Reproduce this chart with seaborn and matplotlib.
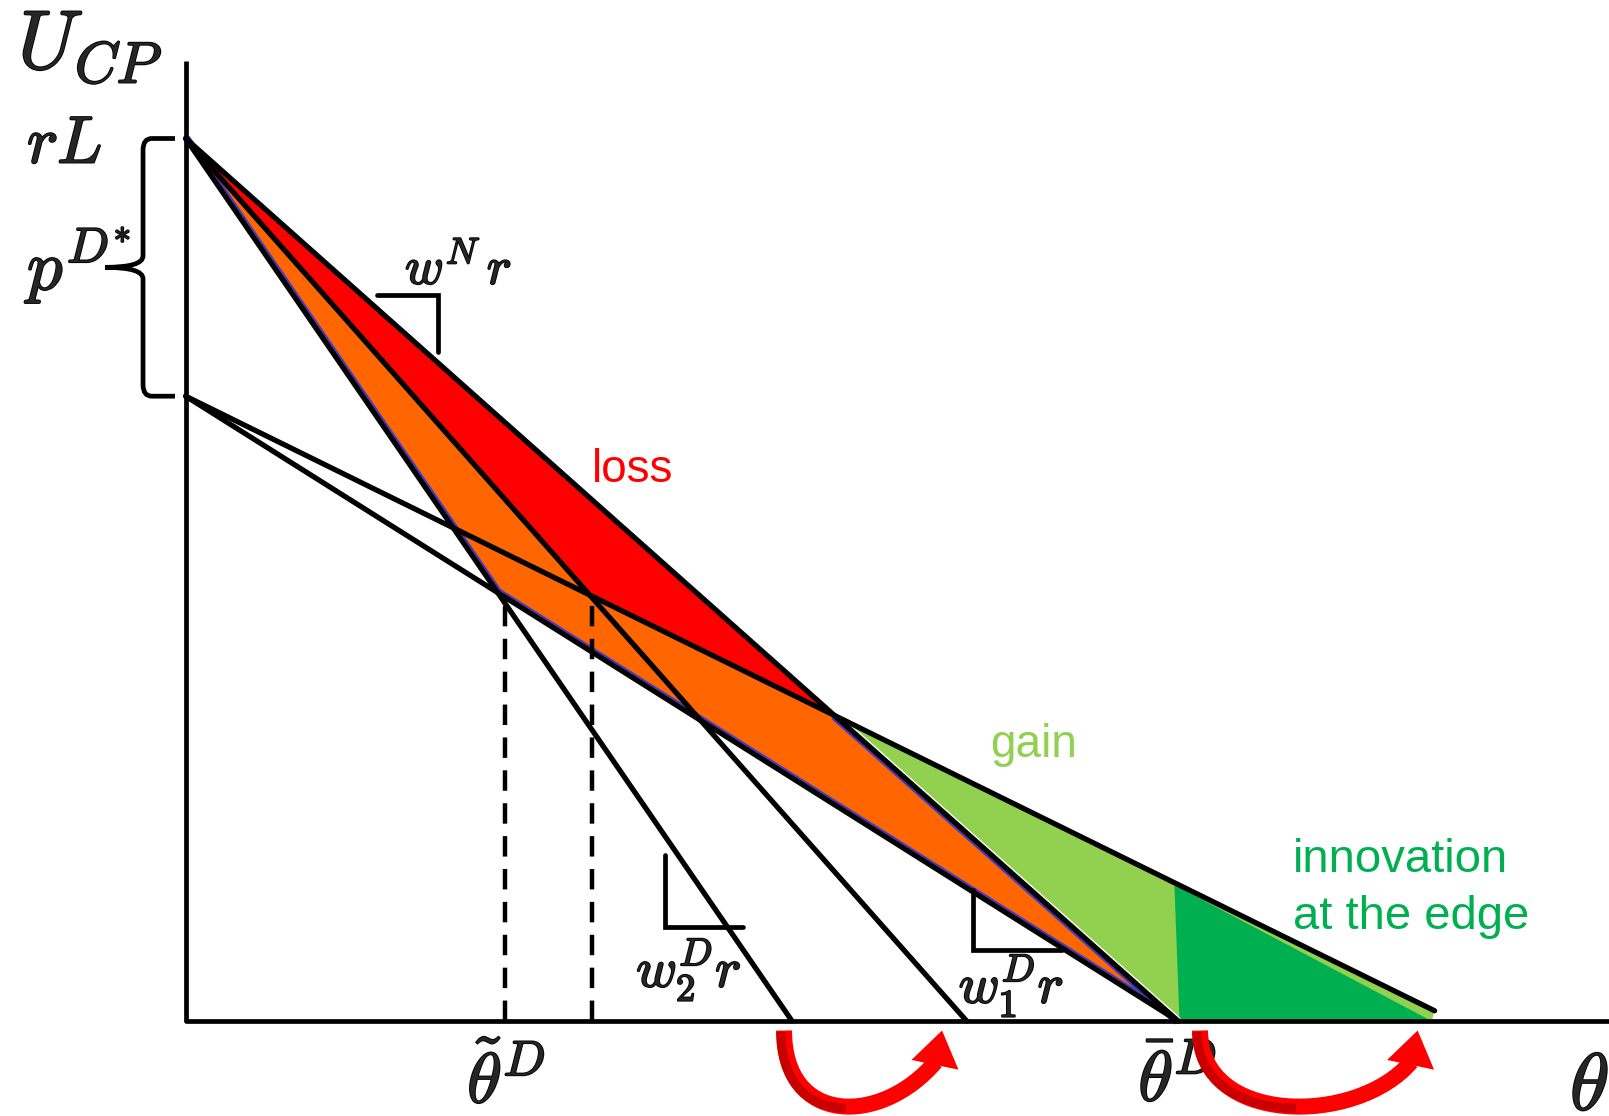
import numpy as np
import matplotlib
matplotlib.use("Agg")
import matplotlib.pyplot as plt
import matplotlib.patheffects as pe
import seaborn as sns
from matplotlib.path import Path
from matplotlib.patches import PathPatch, Polygon
from matplotlib.transforms import ScaledTranslation, IdentityTransform

sns.set_theme(style="white")
plt.rcParams["font.family"] = ["Liberation Sans", "DejaVu Sans"]
plt.rcParams["mathtext.fontset"] = "cm"

# Content-provider utility U_CP against the type theta.
# Units: rL = 1 on the vertical axis, theta_bar^D = 1 on the horizontal axis.
rL = 1.0
u_low = 0.708                  # rL - p^{D*}: intercept of the lower schedules
theta_bar = 1.0                # \bar\theta^D
theta_w2 = 0.611               # zero of the w_2^D r schedule
theta_w1 = 0.787               # zero of the w_1^D r schedule
edge_end = [1.2586, 0.0116]    # end point of the outer schedule
theta_tilde = 0.322            # \tilde\theta^D guide
theta_cut = 0.4095             # second dashed guide

# innovation-at-the-edge area (theta, U)
innov_theta = [0.9964, 1.0015, 1.2556]
innov_u = [0.154, 0.0, 0.0]

# slope markers
mark_wN = ([0.1925, 0.2543, 0.2543], [0.8227, 0.8227, 0.7584])
mark_w2 = ([0.4830, 0.4830, 0.5614], [0.1881, 0.1062, 0.1062])
mark_w1 = ([0.7931, 0.7931, 0.8828], [0.1484, 0.0805, 0.0805])

# curved arrows under the axis: tail start and tip on theta
arrow_from = [0.6030, 1.0222]
arrow_to = [0.7622, 1.2415]
arrow_u = -0.0108

# brace for p^{D*}: end, spine and tip positions on theta
brace_x = [-0.0108, -0.0430, -0.0813]

C_RED, C_ORANGE = "#FF0000", "#FF6600"
C_GAIN, C_INNOV = "#92D050", "#00B050"
C_BLUE = "#3A3AD0"


def line(p, q):
    m = (q[1] - p[1]) / (q[0] - p[0])
    return m, p[1] - m * p[0]


def meet(l1, l2):
    x = (l2[1] - l1[1]) / (l1[0] - l2[0])
    return np.array([x, l1[0] * x + l1[1]])


top = line((0, rL), (theta_bar, 0))
w2 = line((0, rL), (theta_w2, 0))
w1 = line((0, rL), (theta_w1, 0))
low = line((0, u_low), (theta_bar, 0))
outer = line((0, u_low), tuple(edge_end))

P1 = meet(w2, low)      # kink of the orange area
P2 = meet(w1, outer)    # kink of the red area
Cx = meet(top, outer)   # where loss turns into gain
A, B = np.array([0, rL]), np.array([theta_bar, 0.0])

fig = plt.figure(figsize=(16.09, 11.16), dpi=100)
ax = fig.add_axes([0, 0, 1, 1])
ax.set_xlim(-0.18714, 1.43435)
ax.set_ylim(-0.10765, 1.15694)
ax.axis("off")

# filled areas
orange = np.array([A, P1, B])
red = np.array([A, P2, Cx])
gain = np.array([Cx, edge_end, [innov_theta[2], 0.0], B])
ax.add_patch(Polygon(orange, closed=True, fc=C_ORANGE, ec="none", zorder=1))
ax.add_patch(Polygon(red, closed=True, fc=C_RED, ec="none", zorder=1.1))
ax.add_patch(Polygon(gain, closed=True, fc=C_GAIN, ec="none", zorder=1))
ax.add_patch(Polygon(np.column_stack([innov_theta, innov_u]), closed=True,
                     fc=C_INNOV, ec="none", zorder=1.2))


def shifted(p, q, inside, dist, **kw):
    """Draw segment p-q shifted by dist pixels towards the point `inside`."""
    pts = ax.transData.transform(np.array([p, q]))
    d = pts[1] - pts[0]
    n = np.array([-d[1], d[0]]) / np.hypot(*d)
    ref = ax.transData.transform(np.asarray(inside)[None, :])[0]
    if np.dot(ref - pts[0], n) < 0:
        n = -n
    tr = ax.transData + ScaledTranslation(*(n * dist / fig.dpi), fig.dpi_scale_trans)
    ax.plot([p[0], q[0]], [p[1], q[1]], transform=tr, solid_capstyle="butt", **kw)


oc = orange.mean(axis=0)
for p, q in [(A, P1), (P1, B), (Cx, B)]:
    shifted(p, q, oc, 3.6, color=C_BLUE, lw=1.5, zorder=2)
shifted(Cx, B, gain.mean(axis=0), 3.3, color="white", lw=1.1, zorder=2)

# schedules
LW = 3.8
for p, q in [(A, B), (A, (theta_w2, 0)), (A, (theta_w1, 0)),
             ((0, u_low), B), ((0, u_low), tuple(edge_end))]:
    sns.lineplot(x=[p[0], q[0]], y=[p[1], q[1]], color="black", linewidth=LW,
                 sort=False, estimator=None, ax=ax, zorder=3)

# axes
ax.plot([0, 0], [0, 1.0878], color="black", lw=3.4, zorder=3, solid_capstyle="butt")
ax.plot([0, 1.5], [0, 0], color="black", lw=3.4, zorder=3)

# dashed guides
for xg, lg in [(theta_tilde, low), (theta_cut, outer)]:
    ax.plot([xg, xg], [0, lg[0] * xg + lg[1]], color="black", lw=3.2,
            linestyle=(0, (4.6, 2.8)), zorder=3)

# slope markers
for mx, my in [mark_wN, mark_w2, mark_w1]:
    ax.plot(mx, my, color="black", lw=3.4, zorder=3, solid_joinstyle="miter")

# brace next to the vertical axis
xe, xs, xt = brace_x
yt, yb = rL, u_low
ym = 0.5 * (yt + yb)
rx, ry = 0.009, 0.013
verts = [(xe, yt), (xs + rx, yt), (xs, yt), (xs, yt - ry), (xs, ym + ry),
         (xs, ym), (xt, ym), (xs, ym), (xs, ym - ry), (xs, yb + ry),
         (xs, yb), (xs + rx, yb), (xe, yb)]
codes = [Path.MOVETO, Path.LINETO, Path.CURVE3, Path.CURVE3, Path.LINETO,
         Path.CURVE3, Path.CURVE3, Path.CURVE3, Path.CURVE3, Path.LINETO,
         Path.CURVE3, Path.CURVE3, Path.LINETO]
ax.add_patch(PathPatch(Path(verts, codes), fill=False, ec="black", lw=3.4, zorder=3))

# labels (mathematical symbols slightly emboldened)
bold = [pe.withStroke(linewidth=1.3, foreground="black")]
math_labels = [
    (-0.169, 1.0788, r"$U_{CP}$", 60),
    (-0.160, 0.9722, r"$rL$", 48),
    (-0.160, 0.829, r"$p^{D^{*}}$", 51),
    (0.221, 0.835, r"$w^{N}\,r$", 38),
    (0.454, 0.0385, r"$w_2^{D}r$", 40),
    (0.779, 0.0204, r"$w_1^{D}r$", 40),
    (0.2836, -0.0925, r"$\tilde{\theta}^{D}$", 51),
    (0.960, -0.0905, r"$\bar{\theta}^{D}$", 51),
    (1.395, -0.1008, r"$\theta$", 58),
]
for x, y, s, fs in math_labels:
    ax.text(x, y, s, fontsize=fs, ha="left", va="baseline", path_effects=bold, zorder=4)

ax.text(0.4095, 0.6108, "loss", color=C_RED, fontsize=33, ha="left", va="baseline")
ax.text(0.8106, 0.299, "gain", color=C_GAIN, fontsize=33, ha="left", va="baseline")
ax.text(1.116, 0.1046, "innovation\nat the edge", color=C_INNOV, fontsize=34,
        ha="left", va="baseline", linespacing=1.36)


def curved_arrow(x_from, x_to, y, k1=95, k2=82, tail_px=16, head_len=35, head_w=48):
    T = ax.transData
    p0 = T.transform((x_from, y))
    tip = T.transform((x_to, y))
    hd = np.array([7.0, 34.0]); hd /= np.hypot(*hd)
    base = tip - hd * head_len
    tg = np.array([0.66, 0.75]); tg /= np.hypot(*tg)
    p1 = p0 + np.array([0, -k1])
    p2 = base - tg * k2
    p3 = base + hd * 3
    cps = np.array([p0, p1, p2, p3])
    path = Path(cps, [Path.MOVETO, Path.CURVE4, Path.CURVE4, Path.CURVE4])
    ax.add_patch(PathPatch(path, fill=False, ec=C_RED, lw=tail_px * 72 / fig.dpi,
                           capstyle="butt", transform=IdentityTransform(), zorder=6))
    # darker shading on the descending part of the tail
    t = np.linspace(0, 0.55, 40)[:, None]
    pts = ((1 - t) ** 3 * cps[0] + 3 * (1 - t) ** 2 * t * cps[1]
           + 3 * (1 - t) * t ** 2 * cps[2] + t ** 3 * cps[3])
    pts = pts + np.array([-3.0, -1.5])
    ax.plot(pts[:, 0], pts[:, 1], color="#C80000", lw=9 * 72 / fig.dpi,
            solid_capstyle="butt", transform=IdentityTransform(), zorder=6.1)
    n = np.array([-hd[1], hd[0]])
    head = np.array([base + n * head_w / 2, tip, base - n * head_w / 2])
    ax.add_patch(Polygon(head, closed=True, fc=C_RED, ec="none",
                         transform=IdentityTransform(), zorder=6.2))


for xf, xt_ in zip(arrow_from, arrow_to):
    curved_arrow(xf, xt_, arrow_u)

fig.savefig("out.png", dpi=100)
